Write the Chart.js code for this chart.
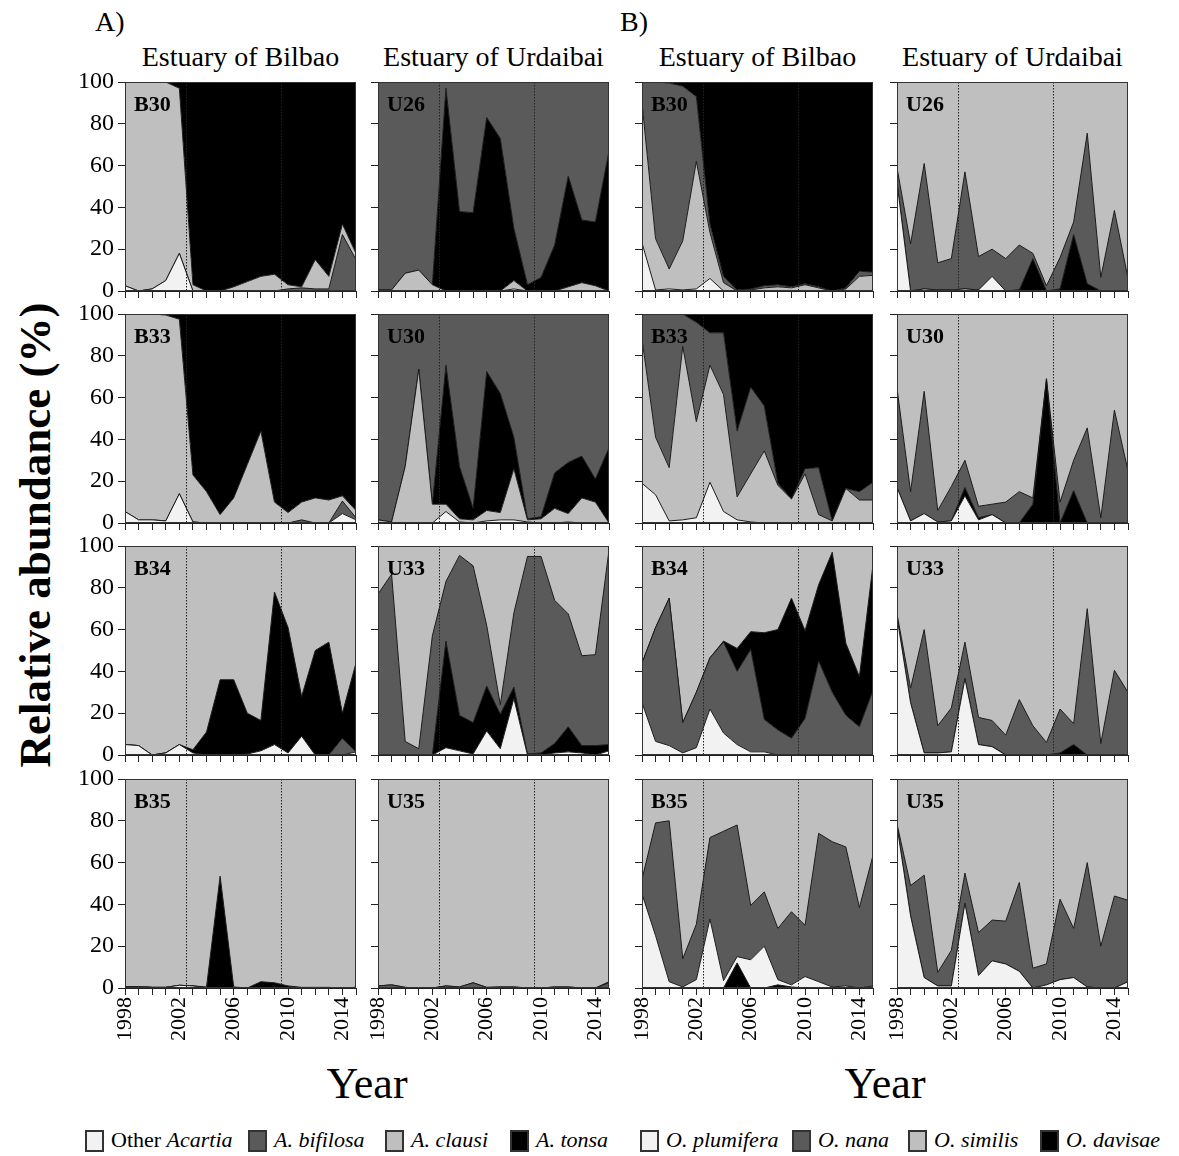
<!DOCTYPE html>
<html>
<head>
<meta charset="utf-8">
<script src="https://cdn.jsdelivr.net/npm/chart.js@4.4.0/dist/chart.umd.min.js"></script>
<style>
  body { margin:0; background:#fff; width:1179px; height:1156px; position:relative; overflow:hidden;
         font-family:'Liberation Serif','Times New Roman',serif; color:#000; }
  .t { position:absolute; white-space:nowrap; line-height:1; }
  canvas { position:absolute; }
  .box { position:absolute; width:15px; height:18px; border:2px solid #333; box-sizing:content-box; }
</style>
</head>
<body>

<div class="t" style="left:95px;top:8px;font-size:28px;">A)</div>
<div class="t" style="left:620px;top:8px;font-size:28px;">B)</div>

<div class="t" style="left:115px;top:43px;width:251px;text-align:center;font-size:28px;">Estuary of Bilbao</div>
<div class="t" style="left:368px;top:43px;width:251px;text-align:center;font-size:28px;">Estuary of Urdaibai</div>
<div class="t" style="left:632px;top:43px;width:251px;text-align:center;font-size:28px;">Estuary of Bilbao</div>
<div class="t" style="left:887px;top:43px;width:251px;text-align:center;font-size:28px;">Estuary of Urdaibai</div>

<div class="t" style="left:-265px;top:510px;width:600px;height:50px;line-height:50px;text-align:center;font-size:45px;font-weight:bold;transform:rotate(-90deg);">Relative abundance (%)</div>

<div class="t" style="left:267px;top:1062px;width:200px;text-align:center;font-size:44px;">Year</div>
<div class="t" style="left:785px;top:1062px;width:200px;text-align:center;font-size:44px;">Year</div>

<div id="legend"></div>

<script>
// ---- data ----
const years = [1998,1999,2000,2001,2002,2003,2004,2005,2006,2007,2008,2009,2010,2011,2012,2013,2014,2015];
const yearLabels = [1998,2002,2006,2010,2014];
const periodBreaks = [2002.5, 2009.5];

// A) Acartia spp., Estuary of Bilbao
const a_B30_other    = [2.5,0,1,5,18,0,0,0,0,0,0,0,0,0,0,0,0,0];
const a_B30_bifilosa = [0,0,0,0,0,0,0,0,0,0,0,0,1,1.5,1,1,27,15];
const a_B30_clausi   = [97.5,100,99,95,79,3,0,0,2,4.5,7,8,2,0.5,14,6,5,3];
const a_B30_tonsa    = [0,0,0,0,3,97,100,100,98,95.5,93,92,97,98,85,93,68,82];

const a_B33_other    = [5.5,1.5,1.5,1,14,0.5,0,0,0,0,0,0,0,0,0,0,4.5,1.5];
const a_B33_bifilosa = [0,0,0,0,0,0,0,0,0,0,0,0,0,1.5,0,0,6,1];
const a_B33_clausi   = [94.5,98.5,98.5,98.5,83.5,22.5,15,4,12,28,44,10,5,8.5,12,11,2.5,3.5];
const a_B33_tonsa    = [0,0,0,0.5,2.5,77,85,96,88,72,56,90,95,90,88,89,87,94];

const a_B34_other    = [5,4.5,0,1,5,1,0,0,0,0.5,2,5,1,9,0,0,0,1.5];
const a_B34_bifilosa = [0,0,0,0,0,0,0,0,0,0,0,0,0,0,0,0,8,0];
const a_B34_tonsa    = [0,0,0,0,0,1.5,11,36,36,19.5,14.5,73,60,19,50,54,12,42.5];
const a_B34_clausi   = [95,95.5,100,99,95,97.5,89,64,64,80,83.5,22,39,72,50,46,80,56];

const a_B35_other    = [0.7,0.7,0.3,0.3,1.3,1,0,0,0,0,0,0,0,0,0,0,0,0.3];
const a_B35_bifilosa = [0,0,0,0,0,0,0,0,0,0,0,0,0,0,0,0,0,0];
const a_B35_tonsa    = [0,0,0,0,0,0,0.5,53.5,0.5,0,3,2.5,1,0.3,0.3,0.3,0,0];
const a_B35_clausi   = [99.3,99.3,99.7,99.7,98.7,99,99.5,46.5,99.5,100,97,97.5,99,99.7,99.7,99.7,100,99.7];

// A) Acartia spp., Estuary of Urdaibai
const a_U26_other    = [0,0,0,0,0,0,0,0,0,0,1,0,0,0,0,0,0,0];
const a_U26_clausi   = [0.5,0.5,8.5,10,3,0,0,0,0,0,4,0,0,0,2,4,2.5,0];
const a_U26_tonsa    = [0,0,0,0,0,97,38,37.5,83,73,25,3,6.5,22,53,30,30.5,67];
const a_U26_bifilosa = [99.5,99.5,91.5,90,97,3,62,62.5,17,27,70,97,93.5,78,45,66,67,33];

const a_U30_other    = [0,0,0,0,0,5.5,0.5,0,1,1.5,1.5,0.5,0,0,0.5,0,0,0];
const a_U30_clausi   = [1.5,0.5,27,73.5,9,3.5,1.5,1.5,5,3.5,24.5,1,2,7,4,12,10,0];
const a_U30_tonsa    = [0,0,0,0,0,66.5,25,5.5,66.5,57,15,0.5,1,17,24.5,20,11,36];
const a_U30_bifilosa = [98.5,99.5,73,26.5,91,24.5,73,93,27.5,38,59,98,97,76,71,68,79,64];

const a_U33_other    = [0,0,0,0,0,3.5,2,0.5,11.5,3,27,0,0,1,1.5,1,0,2];
const a_U33_tonsa    = [0,0,0,0,0,51,17,15,21.5,16.5,5.5,0.5,1,4.5,12,3.5,4.5,3];
const a_U33_bifilosa = [77,86.5,6.5,3,57,28.5,76.5,75,29,4.5,35.5,94.5,94,68.5,54,43,43.5,93];
const a_U33_clausi   = [23,13.5,93.5,97,43,17,4.5,9.5,38,76,32,5,5,26,32.5,52.5,52,2];

const a_U35_other    = [0,0,0,0,0,0,0,0,0,0,0,0,0,0,0,0,0,0];
const a_U35_bifilosa = [1,1.5,0.3,0,0,1,0.5,2.5,0.3,0.5,0.5,0,0,0.5,0.5,0,0,2.5];
const a_U35_tonsa    = [0,0,0,0,0,0,0,0,0,0,0,0,0,0,0,0,0,0.5];
const a_U35_clausi   = [99,98.5,99.7,100,100,99,99.5,97.5,99.7,99.5,99.5,100,100,99.5,99.5,100,100,97];

// B) Oithona spp., Estuary of Bilbao
const b_B30_plumifera = [23,0.5,1,0.5,1,6,0,0,0,0,0,0,0,0,0,0,0,0];
const b_B30_similis   = [67,24.5,9.5,23.5,61,22,4,0,0.5,1.5,2,1.5,3,1.5,0,1,7,7.5];
const b_B30_nana      = [10,75,89,74,31,4,3,0.5,0.5,1,1,0.5,0.5,0.5,0,0.5,2.5,1.5];
const b_B30_davisae   = [0,0,0.5,2,7,68,93,99.5,99,97.5,97,98,96.5,98,100,98.5,90.5,91];

const b_B33_plumifera = [19,13.5,1,1.5,2.5,19.5,5.5,1.5,0.5,0,0,0,0,0,0,0,0,0];
const b_B33_similis   = [69,27.5,25.5,83,46,56,56,11,23,34.5,18,11.5,23.5,4,1,16.5,11,11];
const b_B33_nana      = [12,59,73.5,15.5,47.5,15.5,29.5,31.5,41.5,21.5,1,0,2.5,22.5,0,0,4,8.5];
const b_B33_davisae   = [0,0,0,0,4,9,9,56,35,44,81,88.5,74,73.5,99,83.5,85,80.5];

const b_B34_plumifera = [25,6.5,4.5,1,3.5,22,10.5,5,1.5,1.5,0,0,0,0,0,0,0,0];
const b_B34_nana      = [19,54.5,70.5,14.5,26.5,24.5,43.5,35,49,15.5,12,8,17.5,45,30,19,13.5,31];
const b_B34_davisae   = [0,0,0,0,0,0,0.5,11,8.5,41.5,48,67,42,36.5,67,34.5,24,60];
const b_B34_similis   = [56,39,25,84.5,70,53.5,45.5,49,41,41.5,40,25,40.5,18.5,3,46.5,62.5,9];

const b_B35_davisae   = [0,0,0,0,0,0,0,12,0,0,1.5,0.5,0,0,0,0,0,0.5];
const b_B35_plumifera = [45,25,3,0.5,4,33,3.5,3,13.5,20,2.5,1,5.5,3,0.5,1,0,0.5];
const b_B35_nana      = [7,54,77,13.5,26.5,39,71.5,63,26,26,24.5,35,24.5,71,69.5,66.5,38.5,62.5];
const b_B35_similis   = [48,21,20,86,69.5,28,25,22,60.5,54,71.5,63.5,70,26,30,32.5,61.5,36.5];

// B) Oithona spp., Estuary of Urdaibai
const b_U26_plumifera = [52,0,1,0.5,0.5,1,0.5,7,0,0.5,0,0,0,0,0,0,0,0];
const b_U26_davisae   = [0,0,0,0,0,0,0,0,0,0,15.5,0,1,27,3.5,0,0,0];
const b_U26_nana      = [7,22.5,60,13,15,56,16,13,15.5,21.5,2.5,2.5,15,6,72,6.5,38.5,6];
const b_U26_similis   = [41,77.5,39,86.5,84.5,43,83.5,80,84.5,78,82,97.5,84,67,24.5,93.5,61.5,94];

const b_U30_plumifera = [17,1,4.5,0.5,1,13,1.5,4,0,0,0,0,0,0,0,0,0,0];
const b_U30_davisae   = [0,0,0,0,0,4,1,0,0,0,9,69,0,15.5,0,0,0,0];
const b_U30_nana      = [47.5,14,58.5,5.5,16.5,13,5.5,5,10,15,3,0,10,14.5,45.5,2.5,54,25];
const b_U30_similis   = [35.5,85,37,94,82.5,70,92,91,90,85,88,31,90,70,54.5,97.5,46,75];

const b_U33_plumifera = [66,25,1,1,1.5,36.5,5,4,0,0,0,0,0,0,0,0,0,0];
const b_U33_davisae   = [0,0,0,0,0,0,0,0,0,0,0,0,1,5,0,0,0,0];
const b_U33_nana      = [1.5,7,59,13,21,17.5,13,12.5,9.5,26.5,14,6,21,10,70,5.5,40.5,30];
const b_U33_similis   = [32.5,68,40,86,77.5,46,82,83.5,90.5,73.5,86,94,78,85,30,94.5,59.5,70];

const b_U35_plumifera = [77.5,34.5,5,1,1,40.5,6,13,11.5,8,0,1.5,4,5,0.5,0,0,3];
const b_U35_davisae   = [0,0,0,0,0,0,0,0,0,0,0,0,0,0,0,0,0,0];
const b_U35_nana      = [1,14.5,49,6.5,17,14.5,20.5,19.5,20.5,42.5,9.5,10,38.5,23.5,59.5,20,44,39];
const b_U35_similis   = [21.5,51,46,92.5,82,45,73.5,67.5,68,49.5,90.5,88.5,57.5,71.5,40,80,56,58];

// ---- styles ----
const WHITE = '#f2f2f2', DARK = '#5a5a5a', LIGHT = '#bfbfbf', BLACK = '#000000';
const speciesColor = {
  other: WHITE, bifilosa: DARK, clausi: LIGHT, tonsa: BLACK,
  plumifera: WHITE, nana: DARK, similis: LIGHT, davisae: BLACK
};

// panels: layers listed bottom -> top
const panels = [
  {label:'B30', col:0, row:0, layers:[['other',a_B30_other],['bifilosa',a_B30_bifilosa],['clausi',a_B30_clausi],['tonsa',a_B30_tonsa]]},
  {label:'B33', col:0, row:1, layers:[['other',a_B33_other],['bifilosa',a_B33_bifilosa],['clausi',a_B33_clausi],['tonsa',a_B33_tonsa]]},
  {label:'B34', col:0, row:2, layers:[['other',a_B34_other],['bifilosa',a_B34_bifilosa],['tonsa',a_B34_tonsa],['clausi',a_B34_clausi]]},
  {label:'B35', col:0, row:3, layers:[['other',a_B35_other],['bifilosa',a_B35_bifilosa],['tonsa',a_B35_tonsa],['clausi',a_B35_clausi]]},
  {label:'U26', col:1, row:0, layers:[['other',a_U26_other],['clausi',a_U26_clausi],['tonsa',a_U26_tonsa],['bifilosa',a_U26_bifilosa]]},
  {label:'U30', col:1, row:1, layers:[['other',a_U30_other],['clausi',a_U30_clausi],['tonsa',a_U30_tonsa],['bifilosa',a_U30_bifilosa]]},
  {label:'U33', col:1, row:2, layers:[['other',a_U33_other],['tonsa',a_U33_tonsa],['bifilosa',a_U33_bifilosa],['clausi',a_U33_clausi]]},
  {label:'U35', col:1, row:3, layers:[['other',a_U35_other],['bifilosa',a_U35_bifilosa],['tonsa',a_U35_tonsa],['clausi',a_U35_clausi]]},
  {label:'B30', col:2, row:0, layers:[['plumifera',b_B30_plumifera],['similis',b_B30_similis],['nana',b_B30_nana],['davisae',b_B30_davisae]]},
  {label:'B33', col:2, row:1, layers:[['plumifera',b_B33_plumifera],['similis',b_B33_similis],['nana',b_B33_nana],['davisae',b_B33_davisae]]},
  {label:'B34', col:2, row:2, layers:[['plumifera',b_B34_plumifera],['nana',b_B34_nana],['davisae',b_B34_davisae],['similis',b_B34_similis]]},
  {label:'B35', col:2, row:3, layers:[['davisae',b_B35_davisae],['plumifera',b_B35_plumifera],['nana',b_B35_nana],['similis',b_B35_similis]]},
  {label:'U26', col:3, row:0, layers:[['plumifera',b_U26_plumifera],['davisae',b_U26_davisae],['nana',b_U26_nana],['similis',b_U26_similis]]},
  {label:'U30', col:3, row:1, layers:[['plumifera',b_U30_plumifera],['davisae',b_U30_davisae],['nana',b_U30_nana],['similis',b_U30_similis]]},
  {label:'U33', col:3, row:2, layers:[['plumifera',b_U33_plumifera],['davisae',b_U33_davisae],['nana',b_U33_nana],['similis',b_U33_similis]]},
  {label:'U35', col:3, row:3, layers:[['plumifera',b_U35_plumifera],['davisae',b_U35_davisae],['nana',b_U35_nana],['similis',b_U35_similis]]}
];

// ---- layout ----
const colLeft = [125, 378, 642, 897];
const rowTop = [82, 314, 546, 779];
const plotW = 231, plotH = 209;
const padTop = 14, padRight = 2;
const FONT = "'Liberation Serif','Times New Roman',serif";

// fixed axis sizes, no automatic label padding
function fixAxis(size, horizontal) {
  return s => {
    if (horizontal) s.height = size; else s.width = size;
    s.paddingLeft = 0; s.paddingRight = 0; s.paddingTop = 0; s.paddingBottom = 0;
  };
}

// dotted period lines + frame round the plot
const framePlugin = {
  id: 'frame',
  afterDatasetsDraw(chart) {
    const ctx = chart.ctx, a = chart.chartArea, xs = chart.scales.x;
    ctx.save();
    ctx.strokeStyle = '#222';
    ctx.lineWidth = 1;
    ctx.setLineDash([1.5, 1.5]);
    periodBreaks.forEach(yr => {
      const px = Math.round(xs.getPixelForValue(yr)) + 0.5;
      ctx.beginPath();
      ctx.moveTo(px, a.top);
      ctx.lineTo(px, a.bottom);
      ctx.stroke();
    });
    ctx.setLineDash([]);
    ctx.strokeStyle = '#333';
    ctx.strokeRect(a.left + 0.5, a.top + 0.5, a.right - a.left - 1, a.bottom - a.top - 1);
    ctx.restore();
  }
};

panels.forEach(p => {
  const showY = p.col === 0;
  const showX = p.row === 3;
  const yW = showY ? 60 : 12;
  const xH = showX ? 64 : 12;

  const cv = document.createElement('canvas');
  cv.width = yW + plotW + padRight;
  cv.height = padTop + plotH + xH;
  cv.style.left = (colLeft[p.col] - yW) + 'px';
  cv.style.top = (rowTop[p.row] - padTop) + 'px';
  document.body.appendChild(cv);

  const lbl = document.createElement('div');
  lbl.className = 't';
  lbl.textContent = p.label;
  lbl.style.cssText += 'left:' + (colLeft[p.col] + 9) + 'px;top:' + (rowTop[p.row] + 11) + 'px;font-size:22px;font-weight:bold;';
  document.body.appendChild(lbl);

  const datasets = p.layers.map((l, i) => ({
    label: l[0],
    data: years.map((yr, k) => ({ x: yr, y: l[1][k] })),
    backgroundColor: speciesColor[l[0]],
    borderColor: '#1a1a1a',
    borderWidth: 1,
    pointRadius: 0,
    tension: 0,
    fill: i === 0 ? 'origin' : '-1'
  }));

  new Chart(cv, {
    type: 'line',
    data: { datasets },
    plugins: [framePlugin],
    options: {
      responsive: false,
      animation: false,
      layout: { padding: { top: padTop, right: padRight, left: 0, bottom: 0 }, autoPadding: false },
      plugins: { legend: { display: false }, tooltip: { enabled: false } },
      scales: {
        x: {
          type: 'linear', min: 1998, max: 2015,
          afterFit: fixAxis(xH, true),
          grid: { drawOnChartArea: false, drawTicks: true, tickLength: 7, color: '#222' },
          border: { display: true, color: '#222' },
          ticks: {
            stepSize: 1, autoSkip: false, minRotation: 90, maxRotation: 90, padding: 2,
            color: '#000', font: { family: FONT, size: 22 },
            callback: v => (showX && yearLabels.includes(v)) ? String(v) : ''
          }
        },
        y: {
          stacked: true, min: 0, max: 100,
          afterFit: fixAxis(yW, false),
          grid: { drawOnChartArea: false, drawTicks: true, tickLength: 7, color: '#222' },
          border: { display: true, color: '#222' },
          ticks: {
            stepSize: 20, padding: 4, color: '#000', font: { family: FONT, size: 24 },
            callback: v => showY ? String(v) : ''
          }
        }
      }
    }
  });
});

// ---- legend ----
const legendItems = [
  { x: 85,  color: WHITE, html: 'Other <i>Acartia</i>' },
  { x: 248, color: DARK,  html: '<i>A. bifilosa</i>' },
  { x: 385, color: LIGHT, html: '<i>A. clausi</i>' },
  { x: 510, color: BLACK, html: '<i>A. tonsa</i>' },
  { x: 640, color: WHITE, html: '<i>O. plumifera</i>' },
  { x: 792, color: DARK,  html: '<i>O. nana</i>' },
  { x: 908, color: LIGHT, html: '<i>O. similis</i>' },
  { x: 1040, color: BLACK, html: '<i>O. davisae</i>' }
];
const leg = document.getElementById('legend');
legendItems.forEach(it => {
  const b = document.createElement('div');
  b.className = 'box';
  b.style.left = it.x + 'px';
  b.style.top = '1130px';
  b.style.background = it.color;
  leg.appendChild(b);
  const t = document.createElement('div');
  t.className = 't';
  t.innerHTML = it.html;
  t.style.left = (it.x + 26) + 'px';
  t.style.top = '1129px';
  t.style.fontSize = '22px';
  leg.appendChild(t);
});
</script>
</body>
</html>
